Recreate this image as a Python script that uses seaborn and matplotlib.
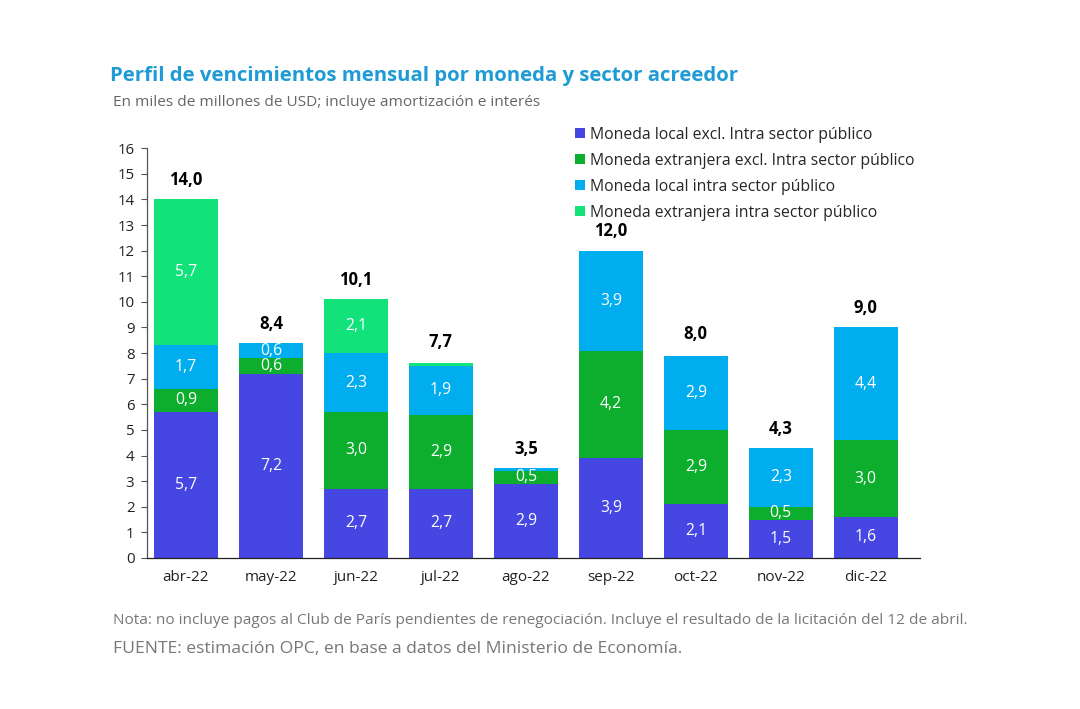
import numpy as np
import pandas as pd
import seaborn as sns
import matplotlib.pyplot as plt
from matplotlib.patches import Patch

# datos (miles de millones de USD)
meses = ["abr-22", "may-22", "jun-22", "jul-22", "ago-22", "sep-22", "oct-22", "nov-22", "dic-22"]
local_excl = [5.7, 7.2, 2.7, 2.7, 2.9, 3.9, 2.1, 1.5, 1.6]
extranjera_excl = [0.9, 0.6, 3.0, 2.9, 0.5, 4.2, 2.9, 0.5, 3.0]
local_intra = [1.7, 0.6, 2.3, 1.9, 0.1, 3.9, 2.9, 2.3, 4.4]
extranjera_intra = [5.7, 0.0, 2.1, 0.1, 0.0, 0.0, 0.0, 0.0, 0.0]
totales = [14.0, 8.4, 10.1, 7.7, 3.5, 12.0, 8.0, 4.3, 9.0]

series = ["Moneda local excl. Intra sector público",
          "Moneda extranjera excl. Intra sector público",
          "Moneda local intra sector público",
          "Moneda extranjera intra sector público"]
colores = ["#4646E2", "#0DAE2E", "#00AEEF", "#12E27A"]

sns.set_theme(style="white")
plt.rcParams['font.family'] = ['Open Sans', 'DejaVu Sans']

fig = plt.figure(figsize=(10.8, 7.09), dpi=100)
ax = fig.add_axes([0.136, 0.213, 0.716, 0.578])

valores = np.array([local_excl, extranjera_excl, local_intra, extranjera_intra])
acum = np.cumsum(valores, axis=0)

# barras apiladas: se dibuja primero la capa acumulada mas alta
for i in range(3, -1, -1):
    df = pd.DataFrame({"mes": meses, "valor": acum[i]})
    sns.barplot(data=df, x="mes", y="valor", color=colores[i], width=0.75,
                saturation=1, ax=ax, errorbar=None, linewidth=0)

# etiquetas de cada segmento
for i in range(4):
    for j in range(len(meses)):
        v = valores[i][j]
        if v >= 0.3:
            ax.text(j, acum[i][j] - v / 2, f"{v:.1f}".replace(".", ","),
                    ha="center", va="center", color="white", fontsize=11.3)

# totales
for j, t in enumerate(totales):
    ax.text(j, t + 0.75, f"{t:.1f}".replace(".", ","), ha="center", va="center",
            color="black", fontsize=12, fontweight="bold")

ax.set_ylim(0, 16)
ax.set_xlim(-0.46, 8.64)
ax.set_yticks(range(0, 17))
ax.set_xlabel("")
ax.set_ylabel("")
ax.tick_params(axis="y", left=True, length=4, width=0.8, color="#555555", pad=5,
               labelsize=10.8, labelcolor="#222222")
ax.tick_params(axis="x", bottom=False, length=0, pad=9, labelsize=11, labelcolor="#222222")
for s in ["top", "right"]:
    ax.spines[s].set_visible(False)
ax.spines["left"].set_color("#555555")
ax.spines["bottom"].set_color("#222222")
ax.spines["left"].set_linewidth(0.9)
ax.spines["bottom"].set_linewidth(0.9)

handles = [Patch(facecolor=c, edgecolor="none") for c in colores]
fig.legend(handles, series, loc="upper left", bbox_to_anchor=(0.527, 0.830),
           frameon=False, fontsize=11.3, handlelength=0.6, handleheight=0.6,
           handletextpad=0.3, labelspacing=0.64, borderaxespad=0)

fig.text(0.102, 1 - 76 / 709, "Perfil de vencimientos mensual por moneda y sector acreedor",
         fontsize=14.7, fontweight="bold", color="#1E9BD5", va="center")
fig.text(0.105, 1 - 103 / 709, "En miles de millones de USD; incluye amortización e interés",
         fontsize=11.1, color="#666666", va="center")
fig.text(0.105, 1 - 621 / 709,
         "Nota: no incluye pagos al Club de París pendientes de renegociación. Incluye el resultado de la licitación del 12 de abril.",
         fontsize=11.1, color="#777777", va="center")
fig.text(0.105, 1 - 649 / 709, "FUENTE: estimación OPC, en base a datos del Ministerio de Economía.",
         fontsize=12.6, color="#777777", va="center")

fig.savefig("out.png", dpi=100, facecolor="white")
